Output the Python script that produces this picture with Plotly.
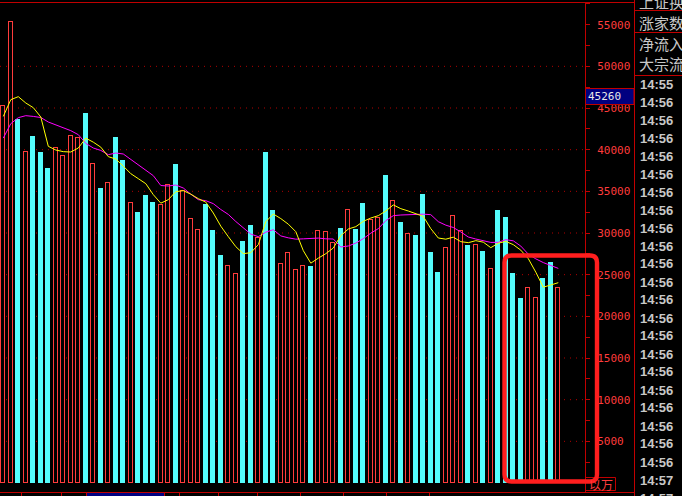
import plotly.graph_objects as go

# ---- data ----
volumes = [45240, 55320, 43600, 39720, 41560, 39640, 37720, 40200, 39280, 41640,
           41400, 44320, 38320, 35320, 36040, 41440, 38680, 33640, 32440, 34480,
           33640, 33400, 35800, 38200, 35080, 31720, 30400, 33400, 30280, 27280,
           26080, 25120, 28960, 30880, 29440, 39640, 32680, 26320, 27600, 25600,
           26080, 25960, 30280, 30160, 28840, 30520, 32800, 30400, 33520, 31600,
           31840, 36880, 33880, 31240, 29920, 29680, 34600, 27640, 25240, 28240,
           32080, 30190, 28400, 28600, 27760, 25720, 32680, 31840, 25120, 22120,
           23440, 22240, 24520, 26440, 23440]
up_down = "RRCRCCCRRRRCRCRCCRCCCRRCRRRCCCRRCCRCCRRRRCRRRCRCCRRCRCRCCCCRRRCRCRCCCCRRCCR"
ma_yellow = [43990, 46000, 46360, 45600, 45040, 43920, 40400, 39960, 39760, 39720,
             40200, 41380, 40900, 40300, 39160, 38880, 38020, 37120, 36520, 35920,
             34600, 33580, 34000, 34960, 35080, 34660, 34120, 33700, 32400, 30820,
             29560, 28360, 27520, 27640, 28600, 31360, 32280, 31730, 31060, 30160,
             27880, 26380, 26980, 27520, 28200, 29680, 30480, 30760, 31400, 31800,
             32080, 32640, 33370, 32920, 32640, 32350, 31990, 30520, 29400, 29260,
             29500, 28960, 28840, 29080, 28900, 28240, 28780, 28990, 28600, 27940,
             26920, 25300, 23500, 23760, 24040]
ma_magenta = [41390, 43120, 43840, 44080, 43990, 43860, 43320, 42970, 42580, 42280,
              41800, 40750, 40200, 39910, 39400, 39600, 39480, 38820, 38140, 37570,
              36880, 35700, 35640, 35760, 35400, 34660, 34000, 33880, 33520, 32820,
              32230, 31380, 30600, 29870, 29560, 30100, 30400, 29650, 29420, 29260,
              29300, 29360, 29390, 29300, 29280, 28320, 28440, 28790, 29320, 29980,
              30520, 31480, 32080, 32160, 32200, 32200, 32260, 32200, 31360, 30940,
              30660, 30130, 29520, 29280, 29090, 28870, 28880, 29200, 29060, 28430,
              27460, 26900, 26450, 26120, 25750]
y_tick_values = [5000, 10000, 15000, 20000, 25000, 30000, 35000, 40000, 45000, 50000, 55000]
y_minor_values = [2500, 7500, 12500, 17500, 22500, 27500, 32500, 37500, 42500, 47500, 52500, 57500]
grid_values = [5000, 10000, 15000, 20000, 25000, 30000, 35000, 40000, 45000, 50000]
right_labels = ["上证换", "涨家数", "净流入", "大宗流"]
time_labels = ["14:55"] + ["14:56"] * 21 + ["14:57", "14:57"]
cursor_value = "45260"
unit_label = "以万"

# ---- styling ----
W, H = 682, 496
PL, PR, PT, PB = 0, 585, 2, 483          # plot area in pixels
RED_LINE = "#c00000"
CYAN = "#54fcfc"
RED_BAR = "#ff3c3c"
GRAY = "#c8c8c8"

def fx(p):
    return (p - PL) / (PR - PL)

def fy(p):
    return (PB - p) / (PB - PT)

x = list(range(len(volumes)))
fill_colors = [CYAN if c == "C" else "#000000" for c in up_down]
line_colors = [CYAN if c == "C" else RED_BAR for c in up_down]

fig = go.Figure()
fig.add_trace(go.Bar(x=x, y=volumes, width=0.56,
                     marker=dict(color=fill_colors, line=dict(color=line_colors, width=1)),
                     hoverinfo="skip"))
fig.add_trace(go.Scatter(x=x, y=ma_magenta, mode="lines",
                         line=dict(color="#ff00ff", width=1), hoverinfo="skip"))
fig.add_trace(go.Scatter(x=x, y=ma_yellow, mode="lines",
                         line=dict(color="#ffff00", width=1), hoverinfo="skip"))

shapes = []
# dotted grid lines
for g in grid_values:
    shapes.append(dict(type="line", xref="paper", yref="y", x0=0, x1=1, y0=g, y1=g,
                       line=dict(color="#b00000", width=1, dash="1px,5px"), layer="below"))

def seg(x0, y0, x1, y1, color=RED_LINE, width=1, layer="above"):
    shapes.append(dict(type="line", xref="paper", yref="paper",
                       x0=fx(x0), y0=fy(y0), x1=fx(x1), y1=fy(y1),
                       line=dict(color=color, width=width), layer=layer))

def rect(x0, y0, x1, y1, fill=None, color=RED_LINE, width=1):
    shapes.append(dict(type="rect", xref="paper", yref="paper",
                       x0=fx(x0), y0=fy(y0), x1=fx(x1), y1=fy(y1),
                       fillcolor=fill if fill else "rgba(0,0,0,0)",
                       line=dict(color=color, width=width), layer="above"))

# frame lines
seg(0, 2.5, 634, 2.5)
seg(585.5, 2, 585.5, 492)
seg(634.5, 0, 634.5, 496)
seg(0, 492.5, 634, 492.5)
for yy in (10.5, 32.5, 75.5):
    seg(634, yy, 682, yy)
for tx in (21, 61, 179, 218, 257, 300, 343, 386, 429):
    seg(tx + 0.5, 492, tx + 0.5, 496)

# cursor value box and unit box
rect(585.5, 88.5, 634, 104.5, fill="#000080")
rect(585.5, 477.5, 615.5, 490.5)
# bottom date box
rect(86.5, 492.5, 164.5, 500, fill="#000080")

# highlighted rounded red box
def rounded_path(x0, y0, x1, y1, r):
    X0, X1 = fx(x0), fx(x1)
    Y0, Y1 = fy(y0), fy(y1)
    rx = r / (PR - PL)
    ry = r / (PB - PT)
    return (f"M {X0+rx},{Y0} L {X1-rx},{Y0} Q {X1},{Y0} {X1},{Y0-ry} "
            f"L {X1},{Y1+ry} Q {X1},{Y1} {X1-rx},{Y1} "
            f"L {X0+rx},{Y1} Q {X0},{Y1} {X0},{Y1+ry} "
            f"L {X0},{Y0-ry} Q {X0},{Y0} {X0+rx},{Y0} Z")

shapes.append(dict(type="path", xref="paper", yref="paper",
                   path=rounded_path(504.5, 255.5, 597, 481.5, 7),
                   line=dict(color="#ff1e1e", width=4.4), layer="above"))

annotations = []
# right panel labels
for txt, yy in zip(right_labels, (1, 22.5, 43.5, 63.5)):
    annotations.append(dict(text=txt, xref="paper", yref="paper", x=fx(637), y=fy(yy),
                            xanchor="left", yanchor="middle", showarrow=False,
                            font=dict(family="Noto Sans CJK SC", size=15, color=GRAY)))
for i, txt in enumerate(time_labels):
    yy = 84 + 18 * i
    annotations.append(dict(text=f"<b>{txt}</b>", xref="paper", yref="paper", x=fx(637.5), y=fy(yy),
                            xanchor="left", yanchor="middle", showarrow=False,
                            font=dict(family="Liberation Sans", size=13, color=GRAY)))
annotations.append(dict(text=cursor_value, xref="paper", yref="paper", x=fx(585.5), y=fy(96.5),
                        xanchor="left", yanchor="middle", showarrow=False,
                        font=dict(family="DejaVu Sans Mono", size=11, color="#e8e8e8")))
annotations.append(dict(text=unit_label, xref="paper", yref="paper", x=fx(600.5), y=fy(484),
                        xanchor="center", yanchor="middle", showarrow=False,
                        font=dict(family="Noto Sans CJK SC", size=12, color=RED_BAR)))

fig.update_layout(
    width=W, height=H,
    margin=dict(l=PL, r=W - PR, t=PT, b=H - PB, pad=0),
    paper_bgcolor="#000000", plot_bgcolor="#000000",
    showlegend=False, bargap=0,
    shapes=shapes, annotations=annotations,
    xaxis=dict(range=[-0.44, 77.56], showgrid=False, zeroline=False, showticklabels=False,
               ticks="", showline=False, fixedrange=True),
    yaxis=dict(range=[0, 57720], side="right", showgrid=False, zeroline=False,
               showline=False, tickmode="array", tickvals=y_tick_values,
               ticktext=[str(v) for v in y_tick_values],
               ticks="outside", ticklen=4, tickwidth=1, tickcolor=RED_LINE,
               ticklabelstandoff=5,
               minor=dict(tickmode="array", tickvals=y_minor_values, ticks="outside",
                          ticklen=4, tickcolor=RED_LINE, showgrid=False),
               tickfont=dict(family="DejaVu Sans Mono", size=11, color="#ff3c3c"),
               fixedrange=True),
)

post = """
document.body.style.margin = '0';
document.body.style.padding = '0';
document.body.style.background = '#000';
document.body.style.overflow = 'hidden';
document.querySelectorAll('.bars path').forEach(function (p) {
  p.style.shapeRendering = 'crispEdges';
});
"""
fig.write_html("out.html", post_script=post, config={"displayModeBar": False})
